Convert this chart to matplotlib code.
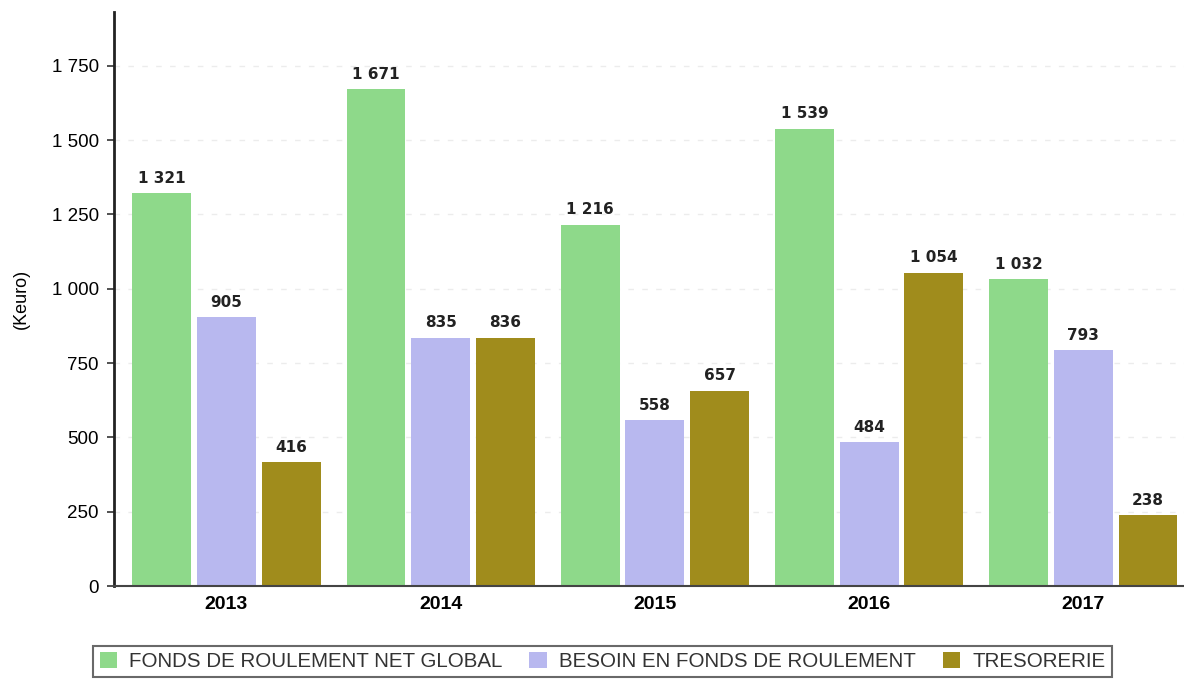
import matplotlib.pyplot as plt
import numpy as np

annees = ['2013', '2014', '2015', '2016', '2017']
frng = [1321, 1671, 1216, 1539, 1032]
bfr = [905, 835, 558, 484, 793]
tresorerie = [416, 836, 657, 1054, 238]

series = [
    ('FONDS DE ROULEMENT NET GLOBAL', frng, '#8ed98a'),
    ('BESOIN EN FONDS DE ROULEMENT', bfr, '#b8b8ef'),
    ('TRESORERIE', tresorerie, '#a08c1c'),
]

def fmt(v):
    return f"{v:,}".replace(',', ' ')

fig = plt.figure(figsize=(11.84, 6.8), dpi=100)
ax = fig.add_axes([0.0963, 0.138, 0.9037, 0.844])

x = np.arange(len(annees))
larg = 0.275
pas = 0.302

for i, (nom, vals, coul) in enumerate(series):
    pos = x + (i - 1) * pas
    ax.bar(pos, vals, width=larg, color=coul, label=nom, zorder=2)
    for px, v in zip(pos, vals):
        ax.text(px, v + 25, fmt(v), ha='center', va='bottom',
                fontsize=11, fontweight='bold', color='#222222',
                family='DejaVu Sans')

ax.set_xlim(-0.525, 4.47)
ax.set_ylim(0, 1930)
yt = [0, 250, 500, 750, 1000, 1250, 1500, 1750]
ax.set_yticks(yt)
ax.set_yticklabels([fmt(v) for v in yt], fontsize=13.5, family='Liberation Sans')
ax.set_xticks(x)
ax.set_xticklabels(annees, fontsize=14, fontweight='bold', family='Liberation Sans')
ax.tick_params(axis='x', length=0, pad=7)
ax.tick_params(axis='y', length=5, width=1.2, color='#333333', pad=6)

ax.yaxis.grid(True, linestyle=(0, (4, 6)), color='#ececec', linewidth=1, zorder=0)
ax.set_axisbelow(True)

for s in ['top', 'right']:
    ax.spines[s].set_visible(False)
ax.spines['left'].set_linewidth(2)
ax.spines['left'].set_color('#222222')
ax.spines['bottom'].set_linewidth(1.5)
ax.spines['bottom'].set_color('#444444')

ax.set_ylabel('(Keuro)', fontsize=13, family='Liberation Sans', labelpad=16)

leg = fig.legend(loc='center', bbox_to_anchor=(0.509, 0.027), ncol=3,
                 frameon=True, fancybox=False, edgecolor='#444444',
                 prop={'family': 'Liberation Sans', 'size': 14.8},
                 handlelength=0.85, handleheight=0.85, handletextpad=0.6,
                 columnspacing=1.3, borderpad=0.3)
leg.get_frame().set_linewidth(1.5)
for t in leg.get_texts():
    t.set_color('#333333')

fig.savefig('out.png', dpi=100)
